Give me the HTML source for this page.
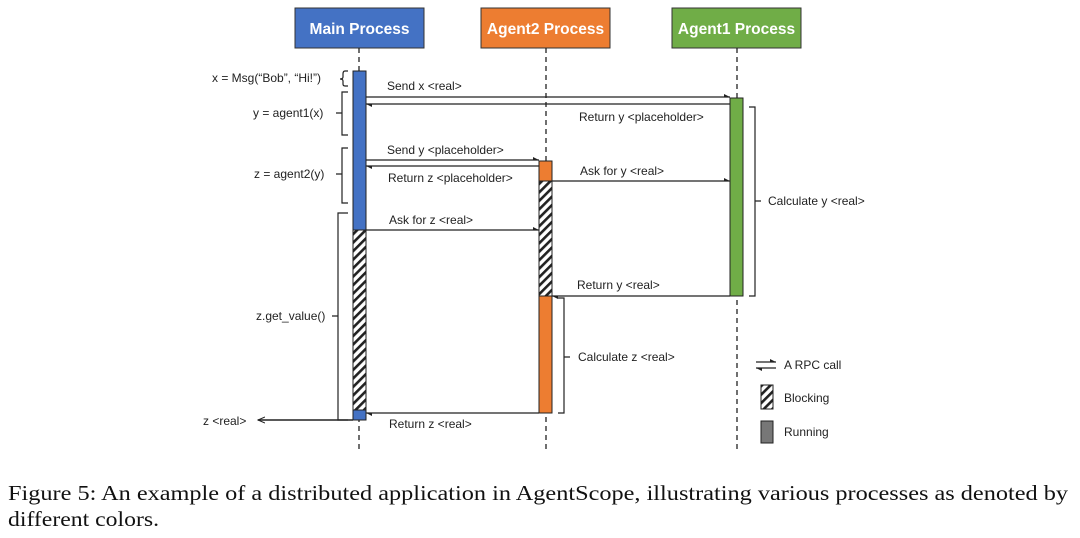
<!DOCTYPE html>
<html><head><meta charset="utf-8"><style>
html,body{margin:0;padding:0;background:#fff;width:1080px;height:538px;overflow:hidden}
svg{display:block}
.t{font-family:"Liberation Sans",sans-serif;font-size:12px;fill:#222}
.h{font-family:"Liberation Sans",sans-serif;font-size:15.5px;font-weight:bold;fill:#fff}
.c{font-family:"Liberation Serif",serif;font-size:21px;fill:#111}
</style></head><body>
<svg width="1080" height="538" viewBox="0 0 1080 538" xmlns="http://www.w3.org/2000/svg">
<defs>
<pattern id="hat" width="6" height="6" patternUnits="userSpaceOnUse" patternTransform="rotate(45)">
<rect width="6" height="6" fill="#fff"/><rect width="2.6" height="6" fill="#222"/>
</pattern>
<marker id="ar" markerWidth="8" markerHeight="8" refX="7" refY="4" orient="auto" markerUnits="userSpaceOnUse"><path d="M0,1 L7,4 L0,7" fill="none" stroke="#222" stroke-width="1"/></marker>
<marker id="ah" markerWidth="7" markerHeight="6" refX="6" refY="3" orient="auto" markerUnits="userSpaceOnUse"><path d="M0,0 L6,3 L0,3z" fill="#222"/></marker>
</defs>
<rect x="295" y="8" width="129" height="40" fill="#4472c4" stroke="#333"/>
<text class="h" x="359.5" y="34" text-anchor="middle">Main Process</text>
<rect x="481" y="8" width="129" height="40" fill="#ed7d31" stroke="#333"/>
<text class="h" x="545.5" y="34" text-anchor="middle">Agent2 Process</text>
<rect x="672" y="8" width="129" height="40" fill="#70ad47" stroke="#333"/>
<text class="h" x="736.5" y="34" text-anchor="middle">Agent1 Process</text>
<g stroke="#222" stroke-width="1.3" stroke-dasharray="5,4">
<line x1="359" y1="48" x2="359" y2="452"/>
<line x1="546" y1="48" x2="546" y2="452"/>
<line x1="737" y1="48" x2="737" y2="452"/>
</g>
<g stroke="#222" stroke-width="1">
<rect x="353" y="71" width="13" height="159" fill="#4472c4"/>
<rect x="353" y="230" width="13" height="180" fill="url(#hat)"/>
<rect x="353" y="410" width="13" height="10" fill="#4472c4"/>
<rect x="539" y="161" width="13" height="20" fill="#ed7d31"/>
<rect x="539" y="181" width="13" height="115" fill="url(#hat)"/>
<rect x="539" y="296" width="13" height="117" fill="#ed7d31"/>
<rect x="730" y="98" width="13" height="198" fill="#70ad47"/>
</g>
<g stroke="#222" stroke-width="1.2" fill="none">
<line x1="366" y1="97" x2="730" y2="97" marker-end="url(#ah)"/>
<line x1="730" y1="104" x2="366" y2="104" marker-end="url(#ah)"/>
<line x1="366" y1="160" x2="539" y2="160" marker-end="url(#ah)"/>
<line x1="539" y1="166" x2="366" y2="166" marker-end="url(#ah)"/>
<line x1="552" y1="181" x2="730" y2="181" marker-end="url(#ah)"/>
<line x1="366" y1="230" x2="539" y2="230" marker-end="url(#ah)"/>
<line x1="730" y1="296" x2="552" y2="296" marker-end="url(#ah)"/>
<line x1="539" y1="413" x2="366" y2="413" marker-end="url(#ah)"/>
<line x1="353" y1="420" x2="258" y2="420" stroke-width="1.5" marker-end="url(#ar)"/>
<path d="M348,71 h-3 q-2,0 -2,3 v3 q0,2 -3,2 q3,0 3,2 v3 q0,2 2,2 h3"/>
<path d="M348,92 h-6 v43 h6 M342,113 h-6"/>
<path d="M348,148 h-6 v55 h6 M342,174 h-6"/>
<path d="M348,213 h-10 v207 h10 M338,316 h-6"/>
<path d="M749,107 h6 v189 h-6 M755,201 h6"/>
<path d="M558,298 h6 v115 h-6 M564,357 h6"/>
<line x1="756" y1="362" x2="776" y2="362" marker-end="url(#ah)"/>
<line x1="776" y1="368" x2="756" y2="368" marker-end="url(#ah)"/>
</g>
<rect x="761" y="385" width="12" height="24" fill="url(#hat)" stroke="#222"/>
<rect x="761" y="421" width="12" height="22" fill="#777" stroke="#222"/>
<text class="t" x="212" y="82">x = Msg(“Bob”, “Hi!”)</text>
<text class="t" x="253" y="117">y = agent1(x)</text>
<text class="t" x="254" y="178">z = agent2(y)</text>
<text class="t" x="256" y="320">z.get_value()</text>
<text class="t" x="203" y="425">z &lt;real&gt;</text>
<text class="t" x="387" y="90">Send x &lt;real&gt;</text>
<text class="t" x="579" y="121">Return y &lt;placeholder&gt;</text>
<text class="t" x="387" y="154">Send y &lt;placeholder&gt;</text>
<text class="t" x="388" y="182">Return z &lt;placeholder&gt;</text>
<text class="t" x="580" y="175">Ask for y &lt;real&gt;</text>
<text class="t" x="389" y="224">Ask for z &lt;real&gt;</text>
<text class="t" x="577" y="289">Return y &lt;real&gt;</text>
<text class="t" x="389" y="428">Return z &lt;real&gt;</text>
<text class="t" x="768" y="205">Calculate y &lt;real&gt;</text>
<text class="t" x="578" y="361">Calculate z &lt;real&gt;</text>
<text class="t" x="784" y="369">A RPC call</text>
<text class="t" x="784" y="402">Blocking</text>
<text class="t" x="784" y="436">Running</text>
<text class="c" x="8" y="500" textLength="1060" lengthAdjust="spacingAndGlyphs">Figure 5: An example of a distributed application in AgentScope, illustrating various processes as denoted by</text>
<text class="c" x="8" y="526" textLength="151" lengthAdjust="spacingAndGlyphs">different colors.</text>
</svg>
</body></html>
